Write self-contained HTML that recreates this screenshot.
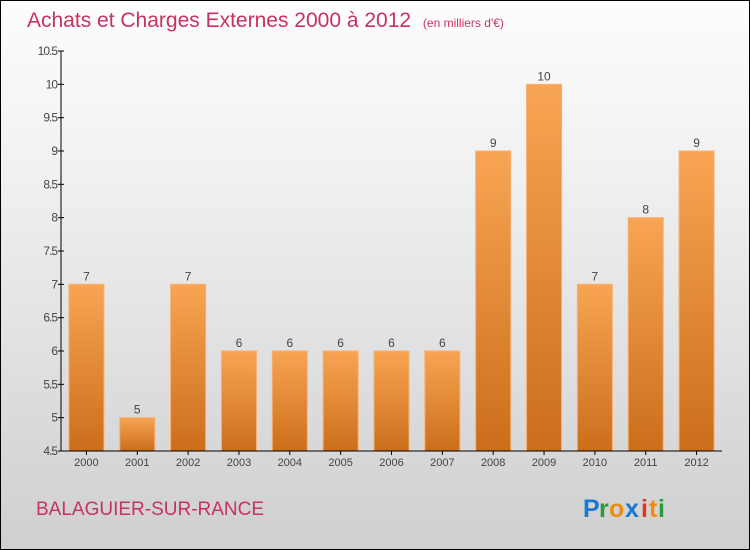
<!DOCTYPE html>
<html><head><meta charset="utf-8"><style>
body{margin:0;}
#c{position:relative;width:748px;height:548px;border:1px solid #000;background:linear-gradient(#fdfdfd,#f1f1f1 30%,#cfcfcf);overflow:hidden;font-family:"Liberation Sans",sans-serif;}
</style></head><body>
<div id="c">
<svg width="748" height="548" style="position:absolute;left:0;top:0" id="svg">
<defs><linearGradient id="bg" x1="0" y1="0" x2="0" y2="1"><stop offset="0" stop-color="#f8a553"/><stop offset="1" stop-color="#cb6e1b"/></linearGradient></defs>
<text x="26" y="26" font-size="21" fill="#c8325f">Achats et Charges Externes 2000 à 2012 <tspan font-size="12" dx="6">(en milliers d'€)</tspan></text>
<text x="35" y="514" font-size="19" fill="#c8325f">BALAGUIER-SUR-RANCE</text>
<g font-size="25" font-weight="bold"><text x="582" y="516" fill="#1a78d0">P</text><text x="598" y="516" fill="#2a9a3a">r</text><text x="608" y="516" fill="#f08a10">o</text><text x="624" y="516" fill="#1a78d0">x</text><text x="640" y="516" fill="#e8301e">i</text><text x="648" y="516" fill="#f08a10">t</text><text x="657" y="516" fill="#2a9a3a">i</text></g>
<g id="plot"></g>
</svg></div>
<script>
const categories=["2000","2001","2002","2003","2004","2005","2006","2007","2008","2009","2010","2011","2012"];
const values=[7,5,7,6,6,6,6,6,9,10,7,8,9];
const labels=["7","5","7","6","6","6","6","6","9","10","7","8","9"];
const yTicks=["4.5","5","5.5","6","6.5","7","7.5","8","8.5","9","9.5","10","10.5"];
const ns="http://www.w3.org/2000/svg";
const g=document.getElementById('plot');
const yMin=4.5,yMax=10.5,yTop=50,yBot=450,xLeft=60,xRight=721;
const y=v=>yBot-(v-yMin)/(yMax-yMin)*(yBot-yTop);
const band=(xRight-xLeft)/categories.length;
const x=i=>xLeft+band*(i+0.5);
function el(t,a){const e=document.createElementNS(ns,t);for(const k in a)e.setAttribute(k,a[k]);g.appendChild(e);return e;}
yTicks.forEach(t=>{const v=parseFloat(t);
const l=el('line',{x1:xLeft-3,x2:xLeft+3,y1:y(v),y2:y(v),stroke:'#000'});


const tx=el('text',{x:xLeft-4,y:y(v)+4,'text-anchor':'end','font-size':12,fill:'#444','letter-spacing':'-1'});tx.textContent=t;

});
categories.forEach((c,i)=>{
const r=el('rect',{x:x(i)-17.5,y:y(values[i]),width:35,height:yBot-y(values[i]),fill:'url(#bg)',stroke:'#f7b070','stroke-width':1});


const v=el('text',{x:x(i),y:y(values[i])-4,'text-anchor':'middle','font-size':12,fill:'#444'});v.textContent=labels[i];


const t=el('text',{x:x(i),y:yBot+15,'text-anchor':'middle','font-size':11,fill:'#444'});t.textContent=c;


const tk=el('line',{x1:x(i),x2:x(i),y1:yBot,y2:yBot+4,stroke:'#000'});


});
const ya=el('line',{x1:xLeft,x2:xLeft,y1:yTop,y2:yBot,stroke:'#000'});


const xa=el('line',{x1:xLeft,x2:xRight,y1:yBot,y2:yBot,stroke:'#000'});


</script>
</body></html>
